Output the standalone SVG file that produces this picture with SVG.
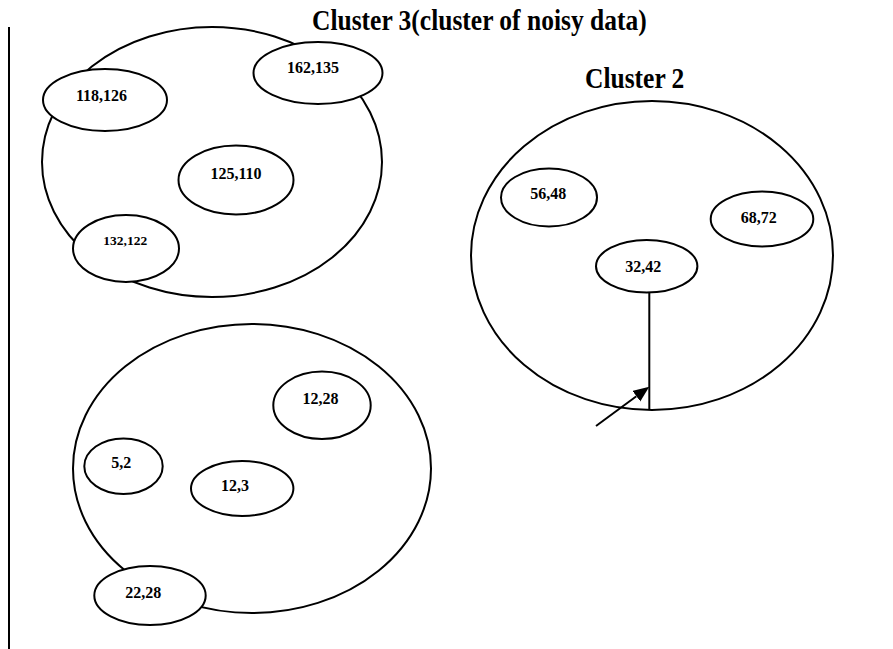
<svg xmlns="http://www.w3.org/2000/svg" width="893" height="649" viewBox="0 0 893 649">
<style>
.big{fill:none;stroke:#000;stroke-width:2}
.pt{fill:#fff;stroke:#000;stroke-width:2}
.lbl{font-family:"Liberation Serif","Times New Roman",serif;font-weight:bold;font-size:16px;text-anchor:middle;fill:#000}
.ttl{font-family:"Liberation Serif","Times New Roman",serif;font-weight:bold;font-size:25.5px;fill:#000}
.conn{stroke:#000;stroke-width:2;fill:none}
</style>
<defs>
<marker id="arr" markerUnits="userSpaceOnUse" markerWidth="17" markerHeight="14" refX="0" refY="6.5" orient="auto">
<path d="M0,0 L16,6.5 L0,13 Z" fill="#000"/>
</marker>
</defs>
<rect width="893" height="649" fill="#fff"/>
<line x1="9" y1="27" x2="9" y2="649" stroke="#000" stroke-width="2"/>
<g id="titles">
<text class="ttl" transform="translate(312,30) scale(1,1.12)">Cluster 3(cluster of noisy data)</text>
<text class="ttl" transform="translate(585,88) scale(1,1.12)">Cluster 2</text>
</g>
<g id="cluster3">
<ellipse class="big" cx="212" cy="162" rx="170" ry="135"/>
</g>
<g id="cluster2">
<ellipse class="big" cx="652" cy="255.5" rx="181" ry="154.5"/>
</g>
<g id="cluster1">
<ellipse class="big" cx="252" cy="468.5" rx="179" ry="144.5"/>
</g>
<g id="n118_126"><ellipse class="pt" cx="105" cy="100" rx="62" ry="31"/><text class="lbl" x="101.5" y="101">118,126</text></g>
<g id="n162_135"><ellipse class="pt" cx="318" cy="73" rx="64.5" ry="31"/><text class="lbl" x="313" y="73">162,135</text></g>
<g id="n125_110"><ellipse class="pt" cx="236" cy="180" rx="57.5" ry="34.5"/><text class="lbl" x="236" y="179">125,110</text></g>
<g id="n132_122"><ellipse class="pt" cx="126" cy="248.5" rx="53" ry="33.5"/><text class="lbl" x="125.3" y="245" style="font-size:13.5px">132,122</text></g>
<g id="n56_48"><ellipse class="pt" cx="549" cy="197.5" rx="48" ry="29"/><text class="lbl" x="548.3" y="199.3">56,48</text></g>
<g id="n68_72"><ellipse class="pt" cx="762" cy="219" rx="51.3" ry="27.5"/><text class="lbl" x="758.7" y="222.7">68,72</text></g>
<g id="n32_42"><ellipse class="pt" cx="646.7" cy="266.3" rx="50.7" ry="26.3"/><text class="lbl" x="643.3" y="271.7">32,42</text></g>
<g id="n12_28"><ellipse class="pt" cx="322" cy="405.3" rx="48.7" ry="33.7"/><text class="lbl" x="320.5" y="404">12,28</text></g>
<g id="n5_2"><ellipse class="pt" cx="123.5" cy="466.2" rx="39.2" ry="27.8"/><text class="lbl" x="121.2" y="468.3">5,2</text></g>
<g id="n12_3"><ellipse class="pt" cx="242.2" cy="488.5" rx="51.2" ry="27.5"/><text class="lbl" x="235" y="491">12,3</text></g>
<g id="n22_28"><ellipse class="pt" cx="150" cy="595.5" rx="55.7" ry="29.5"/><text class="lbl" x="143.3" y="598.3">22,28</text></g>
<g id="connectors">
<line class="conn" x1="649.3" y1="292.6" x2="649.3" y2="410"/>
<line class="conn" x1="596" y1="426" x2="636.4" y2="396.2" marker-end="url(#arr)"/>
</g>
</svg>
